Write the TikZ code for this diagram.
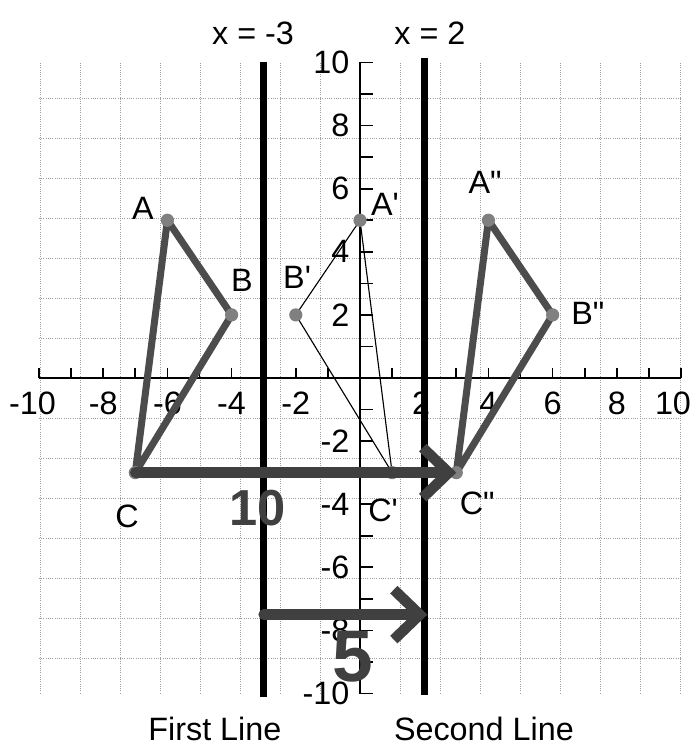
\documentclass[tikz,border=0pt]{standalone}
\usepackage{fontspec}
\setmainfont{Liberation Sans}
\usetikzlibrary{arrows.meta, positioning}

\begin{document}
\begin{tikzpicture}[x=0.8025cm, y=0.78875cm,
    gridline/.style={densely dotted, gray!75, line width=0.6pt},
    axisline/.style={black, line width=1.2pt},
    mirror/.style={black, line width=5pt},
    heavy/.style={black!70, line width=5pt, line join=round, line cap=round},
    light/.style={black, line width=0.8pt},
    pt/.style={circle, fill=black!50, inner sep=0pt, minimum size=0.33cm},
    lbl/.style={font=\fontsize{23}{23}\selectfont, inner sep=1pt},
    hand/.style={black!75, line width=7.5pt, line cap=round,
        -{Straight Barb[length=6.5mm, width=12.5mm]}},
    scrawl/.style={font=\fontsize{#1}{#1}\selectfont\bfseries, text=black!75}]

    \useasboundingbox (-11.215,-11.727) rectangle (10.436,11.981);

    % grid and axes
    \draw[gridline] (-10,-10) grid (10,10);
    \draw[axisline] (-10,0) -- (10,0);
    \draw[axisline] (0,-10) -- (0,10);
    \foreach \i in {-10,...,10} {
        \draw[axisline] (\i,0) -- (\i,0.32);
        \draw[axisline] (0,\i) -- (0.4,\i);
    }
    \foreach \i/\pos in {-10/-10.2,-8/-8,-6/-6,-4/-4,-2/-2,2/1.9,4/4,6/6,8/8,10/9.75} {
        \node[lbl] (xl\i) at (\pos,-0.8) {\i};
        \node[lbl, anchor=east] (yl\i) at (-0.28,\i) {\i};
    }

    % the two mirror lines
    \coordinate (m1top) at (-3,10);
    \coordinate (m1bot) at (-3,-10.1);
    \coordinate (m2top) at (2,10.15);
    \coordinate (m2bot) at (2,-10.05);
    \draw[mirror] (m1top) -- (m1bot);
    \draw[mirror] (m2top) -- (m2bot);
    \node[lbl] (m1name) at (-3.33,10.93) {x = -3};
    \node[lbl] (m2name) at (2.18,10.93) {x = 2};
    \node[lbl] (m1cap) at (-4.52,-11.12) {First Line};
    \node[lbl] (m2cap) at (3.86,-11.12) {Second Line};

    % triangles
    \coordinate (A) at (-6,5);
    \coordinate (B) at (-4,2);
    \coordinate (C) at (-7,-3);
    \coordinate (A1) at (0,5);
    \coordinate (B1) at (-2,2);
    \coordinate (C1) at (1,-3);
    \coordinate (A2) at (4,5);
    \coordinate (B2) at (6,2);
    \coordinate (C2) at (3,-3);

    \draw[light] (A1) -- (B1) -- (C1) -- cycle;
    \draw[heavy] (A) -- (B) -- (C) -- cycle;
    \draw[heavy] (A2) -- (B2) -- (C2) -- cycle;

    \foreach \p in {A,B,C,A1,B1,C1,A2,B2,C2}
        \node[pt] (dot\p) at (\p) {};

    \node[lbl] (nA) at (-6.76,5.39) {A};
    \node[lbl] (nB) at (-3.68,3.1) {B};
    \node[lbl] (nC) at (-7.26,-4.4) {C};
    \node[lbl] (nA1) at (0.78,5.5) {A\textquotesingle};
    \node[lbl] (nB1) at (-1.96,3.2) {B\textquotesingle};
    \node[lbl] (nC1) at (0.72,-4.2) {C\textquotesingle};
    \node[lbl] (nA2) at (3.9,6.2) {A\textquotedbl};
    \node[lbl] (nB2) at (7.1,2.05) {B\textquotedbl};
    \node[lbl] (nC2) at (3.65,-3.96) {C\textquotedbl};

    % hand-drawn distances
    \coordinate (s1) at (-3,-7.5);
    \coordinate (s2) at (2.1,-7.5);
    \draw[hand] (C) -- (C2);
    \draw[hand] (s1) -- (s2);
    \node[scrawl=36] (ten) at (-3.18,-4.12) {10};
    \node[scrawl=52] (five) at (-0.22,-8.84) {5};
\end{tikzpicture}
\end{document}
